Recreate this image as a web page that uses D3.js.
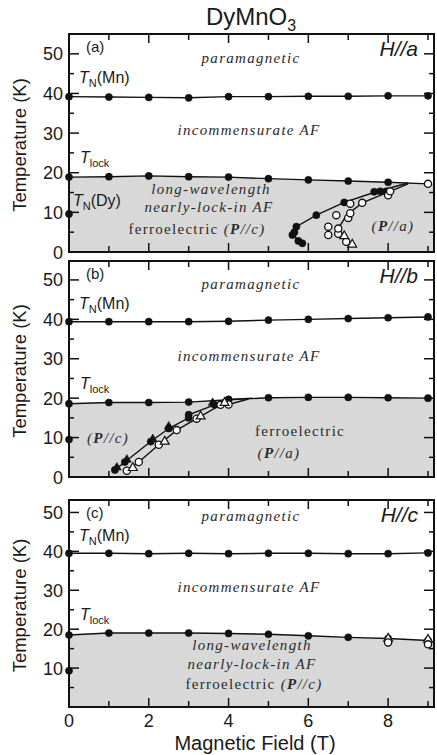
<!DOCTYPE html>
<html>
<head>
<meta charset="utf-8">
<script src="https://cdn.jsdelivr.net/npm/d3@7"></script>
<style>
body { margin: 0; background: #fff; }
text { font-family: "Liberation Sans", Arial, sans-serif; fill: #1a1a1a; }
.reg { font-family: "Liberation Serif", "Times New Roman", serif; font-style: italic; font-size: 15px; letter-spacing: 1.3px; fill: #2a2a2a; }
.up { font-style: normal; }
</style>
</head>
<body>
<div id="graph"></div>
<script>
// field values where points were measured (T)
const fields = [0, 1, 2, 3, 4, 5, 6, 7, 8, 9];
const xTicks = [0, 2, 4, 6, 8];
const yTicks = [0, 10, 20, 30, 40, 50];

// panel (a) H//a
const tnMnA = [39.2, 39.1, 39.0, 38.9, 39.2, 39.2, 39.3, 39.3, 39.4, 39.4];
const tlockA = [18.9, 19.0, 19.2, 19.0, 18.9, 18.5, 18.2, 17.9, 17.6, 17.2];
const tnDyA = 9.6;
const bndFilledA = [[5.85, 2.2], [5.75, 2.8], [5.6, 4.3], [5.65, 5.0], [5.7, 6.4], [6.2, 9.3], [6.9, 12.5], [7.65, 15.2], [7.8, 15.3], [7.95, 15.3]];
const bndFilledLineA = [[5.9, 1.8], [5.6, 4.4], [5.7, 6.4], [6.2, 9.3], [6.9, 12.5], [7.7, 15.2], [8.5, 17.4]];
const bndOpenA = [[6.95, 2.6], [6.5, 4.3], [6.75, 4.6], [6.5, 6.4], [6.75, 5.9], [6.7, 9.3], [7.0, 8.6], [7.05, 9.8], [7.05, 12.2], [7.35, 12.4], [8.0, 14.3], [8.05, 15.3]];
const bndOpenTriA = [[7.1, 1.9], [6.9, 4.0]];
const bndOpenLineA = [[7.1, 1.9], [6.7, 5.0], [6.95, 9.2], [7.35, 12.4], [8.05, 15.3], [8.5, 17.2]];

// panel (b) H//b
const tnMnB = [39.4, 39.4, 39.4, 39.4, 39.5, 39.8, 40.0, 40.2, 40.4, 40.6];
const tlockB = [18.6, 18.9, 18.9, 19.0, 19.6, 20.1, 20.2, 20.2, 20.1, 20.0];
const tnDyB = 9.5;
const bndFilledB = [[1.15, 1.8], [1.4, 3.8], [2.05, 9.0], [2.5, 12.3], [3.0, 15.0], [3.0, 15.8], [3.65, 18.3], [4.0, 19.7]];
const bndFilledTriB = [[1.2, 2.4], [1.45, 4.4], [2.1, 9.6], [2.5, 12.8], [3.6, 18.8]];
const bndOpenB = [[1.45, 1.6], [1.75, 3.8], [2.25, 8.2], [2.7, 11.9], [3.2, 14.8], [3.8, 18.3], [4.0, 18.4]];
const bndOpenTriB = [[1.6, 2.3], [2.4, 9.0], [3.3, 15.4], [3.9, 18.8]];

// panel (c) H//c
const tnMnC = [39.5, 39.5, 39.4, 39.5, 39.4, 39.5, 39.5, 39.4, 39.4, 39.6];
const tlockC = [18.5, 19.0, 19.0, 19.0, 18.9, 18.7, 18.3, 17.9, 17.6, 17.1];
const tnDyC = 9.3;
const openC = [[8, 16.6], [9, 16.1]];
const openTriC = [[8, 17.6], [9, 17.3]];

const width = 437, height = 755;
const svg = d3.select("#graph").append("svg")
  .attr("width", width).attr("height", height);

const x = d3.scaleLinear().domain([0, 9.15]).range([69, 434]);

const panels = [
  {tag: "(a)", dir: "a", top: 34, bottom: 252, yMax: 55, tnMn: tnMnA, tlock: tlockA, tnDy: tnDyA},
  {tag: "(b)", dir: "b", top: 261, bottom: 477, yMax: 54.8, tnMn: tnMnB, tlock: tlockB, tnDy: tnDyB},
  {tag: "(c)", dir: "c", top: 500, bottom: 707, yMax: 53.2, tnMn: tnMnC, tlock: tlockC, tnDy: tnDyC}
];

// title
const title = svg.append("text").attr("x", 251).attr("y", 25)
  .attr("text-anchor", "middle").style("font-size", "24px");
title.append("tspan").text("DyMnO");
title.append("tspan").attr("dy", 6).style("font-size", "16px").text("3");

function dot(g, pts, y, open) {
  g.selectAll(null).data(pts).join("circle")
    .attr("cx", d => x(d[0])).attr("cy", d => y(d[1])).attr("r", 3.6)
    .attr("fill", open ? "#fff" : "#111").attr("stroke", "#111").attr("stroke-width", open ? 1.3 : 0.5);
}
function tri(g, pts, y, open) {
  g.selectAll(null).data(pts).join("path")
    .attr("d", d3.symbol(d3.symbolTriangle, 34))
    .attr("transform", d => `translate(${x(d[0])},${y(d[1])})`)
    .attr("fill", open ? "#fff" : "#111").attr("stroke", "#111").attr("stroke-width", open ? 1.2 : 0.5);
}
function path(g, pts, y) {
  g.append("path").datum(pts)
    .attr("d", d3.line().x(d => x(d[0])).y(d => y(d[1])))
    .attr("fill", "none").attr("stroke", "#111").attr("stroke-width", 1.4);
}
function tSub(g, px, py, sub, tail) {
  const t = g.append("text").attr("x", px).attr("y", py).style("font-size", "16px");
  t.append("tspan").style("font-style", "italic").text("T");
  t.append("tspan").attr("dy", 4).style("font-size", "11px").text(sub);
  if (tail) t.append("tspan").attr("dy", -4).text(tail);
}
function pLabel(g, px, py, pre, dir) {
  const t = g.append("text").attr("class", "reg").attr("x", px).attr("y", py).attr("text-anchor", "middle");
  if (pre) t.append("tspan").attr("class", "up").text(pre);
  t.append("tspan").text("(");
  t.append("tspan").style("font-weight", "bold").text("P");
  t.append("tspan").text("//" + dir + ")");
}

panels.forEach((p, i) => {
  const y = d3.scaleLinear().domain([0, p.yMax]).range([p.bottom, p.top]);
  const g = svg.append("g");
  const pairs = (arr) => fields.map((f, k) => [f, arr[k]]);

  // shaded low-temperature region under T_lock
  const lock = pairs(p.tlock);
  const fillPts = lock.concat([[9.15, p.tlock[9]]]);
  g.append("path").datum(fillPts)
    .attr("d", d3.area().x(d => x(d[0])).y0(y(0)).y1(d => y(d[1])))
    .attr("fill", "#d8d8d8");

  // ticks
  const yMinor = d3.range(5, p.yMax, 5);
  yMinor.forEach(v => {
    const len = v % 10 === 0 ? 10 : 5;
    g.append("line").attr("x1", x(0)).attr("x2", x(0) + len).attr("y1", y(v)).attr("y2", y(v)).attr("stroke", "#111").attr("stroke-width", 1.5);
    g.append("line").attr("x1", x(9.15)).attr("x2", x(9.15) - len).attr("y1", y(v)).attr("y2", y(v)).attr("stroke", "#111").attr("stroke-width", 1.5);
  });
  d3.range(1, 10).forEach(v => {
    const len = v % 2 === 0 ? 9 : 6;
    g.append("line").attr("x1", x(v)).attr("x2", x(v)).attr("y1", y(0)).attr("y2", y(0) - len).attr("stroke", "#111").attr("stroke-width", 1.5);
    g.append("line").attr("x1", x(v)).attr("x2", x(v)).attr("y1", p.top).attr("y2", p.top + len).attr("stroke", "#111").attr("stroke-width", 1.5);
  });

  // frame
  g.append("rect").attr("x", x(0)).attr("y", p.top).attr("width", x(9.15) - x(0)).attr("height", p.bottom - p.top)
    .attr("fill", "none").attr("stroke", "#111").attr("stroke-width", 2);

  // y tick labels
  g.selectAll(null).data(i < 2 ? yTicks : yTicks.slice(1)).join("text")
    .attr("x", 63).attr("y", d => y(d) + 6.5).attr("text-anchor", "end")
    .style("font-size", "18px").text(d => d);

  // y title
  g.append("text").attr("transform", `translate(26,${(p.top + p.bottom) / 2 + 2}) rotate(-90)`)
    .attr("text-anchor", "middle").style("font-size", "18.5px").text("Temperature (K)");

  // phase lines and points
  path(g, pairs(p.tnMn), y);
  dot(g, pairs(p.tnMn), y, false);
  path(g, lock, y);
  dot(g, i === 0 ? lock.slice(0, 9) : lock, y, false);
  dot(g, [[0, p.tnDy]], y, false);

  // panel tag and field direction
  g.append("text").attr("x", 86).attr("y", p.top + 18).style("font-size", "15px").text(p.tag);
  g.append("text").attr("x", 418).attr("y", p.top + 22).attr("text-anchor", "end")
    .style("font-size", "21px").style("font-style", "italic").text("H//" + p.dir);

  tSub(g, 79, y(42.6), "N", "(Mn)");
  tSub(g, 80, y(22.4), "lock");

  g.append("text").attr("class", "reg").attr("x", 251).attr("y", y(47.8)).attr("text-anchor", "middle").text("paramagnetic");
  g.append("text").attr("class", "reg").attr("x", 249).attr("y", y(29.5)).attr("text-anchor", "middle").text("incommensurate AF");

  if (i === 0) {
    tSub(g, 73, y(11.5), "N", "(Dy)");
    g.append("text").attr("class", "reg").attr("x", 211).attr("y", y(14.6)).attr("text-anchor", "middle").text("long-wavelength");
    g.append("text").attr("class", "reg").attr("x", 209).attr("y", y(10.2)).attr("text-anchor", "middle").text("nearly-lock-in AF");
    pLabel(g, 197, y(4.6), "ferroelectric ", "c");
    pLabel(g, 393, y(5.2), null, "a");

    path(g, bndFilledLineA, y);
    path(g, bndOpenLineA, y);
    dot(g, bndFilledA, y, false);
    dot(g, bndOpenA, y, true);
    tri(g, bndOpenTriA, y, true);
    dot(g, [[9, p.tlock[9]]], y, true);
  } else if (i === 1) {
    pLabel(g, 108, y(8.6), null, "c");
    g.append("text").attr("class", "reg up").attr("x", 300).attr("y", y(10.4)).attr("text-anchor", "middle").text("ferroelectric");
    pLabel(g, 279, y(4.9), null, "a");

    path(g, bndFilledB.concat([[4.6, 20.0]]), y);
    path(g, bndOpenB.concat([[4.5, 19.8]]), y);
    dot(g, bndFilledB, y, false);
    tri(g, bndFilledTriB, y, false);
    dot(g, bndOpenB, y, true);
    tri(g, bndOpenTriB, y, true);
  } else {
    g.append("text").attr("class", "reg").attr("x", 252).attr("y", y(14.6)).attr("text-anchor", "middle").text("long-wavelength");
    g.append("text").attr("class", "reg").attr("x", 252).attr("y", y(9.8)).attr("text-anchor", "middle").text("nearly-lock-in AF");
    pLabel(g, 254, y(4.6), "ferroelectric ", "c");
    tri(g, openTriC, y, true);
    dot(g, openC, y, true);

    // x axis labels on the bottom panel only
    g.selectAll(null).data(xTicks).join("text")
      .attr("x", d => x(d)).attr("y", p.bottom + 20).attr("text-anchor", "middle")
      .style("font-size", "18px").text(d => d);
    g.append("text").attr("x", 255).attr("y", p.bottom + 43).attr("text-anchor", "middle")
      .style("font-size", "20px").text("Magnetic Field (T)");
  }
});
</script>
</body>
</html>
